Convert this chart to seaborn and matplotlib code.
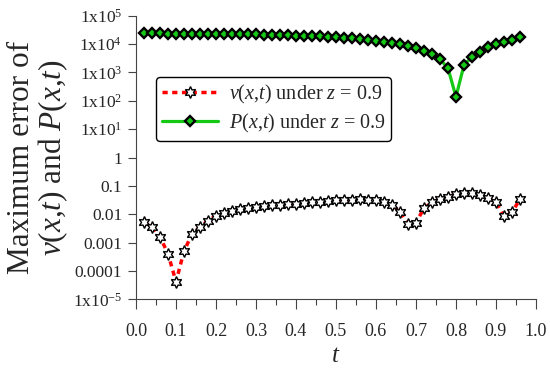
import numpy as np
import pandas as pd
import matplotlib
matplotlib.use("Agg")
import matplotlib.pyplot as plt
import seaborn as sns

# time grid
t = [0.02, 0.04, 0.06, 0.08, 0.10, 0.12, 0.14, 0.16, 0.18, 0.20,
     0.22, 0.24, 0.26, 0.28, 0.30, 0.32, 0.34, 0.36, 0.38, 0.40,
     0.42, 0.44, 0.46, 0.48, 0.50, 0.52, 0.54, 0.56, 0.58, 0.60,
     0.62, 0.64, 0.66, 0.68, 0.70, 0.72, 0.74, 0.76, 0.78, 0.80,
     0.82, 0.84, 0.86, 0.88, 0.90, 0.92, 0.94, 0.96]

# max error of v(x,t)
v_err = [0.0052, 0.0036, 0.0016, 0.0004, 4.2e-5, 0.0005, 0.0020, 0.0036, 0.0059, 0.0089,
         0.0107, 0.0129, 0.0151, 0.0170, 0.0186, 0.0200, 0.0204, 0.0214, 0.0224, 0.0234,
         0.0245, 0.0263, 0.0275, 0.0288, 0.0309, 0.0324, 0.0324, 0.0339, 0.0324, 0.0309,
         0.0269, 0.0214, 0.0123, 0.0044, 0.0051, 0.0162, 0.0263, 0.0347, 0.0417, 0.0501,
         0.0550, 0.0550, 0.0479, 0.0363, 0.0263, 0.0087, 0.0117, 0.0339]

# max error of P(x,t)
p_err = [24000, 24000, 24000, 23440, 23440, 23440, 23440, 22900, 22900, 22900,
         22390, 22390, 22390, 21880, 21880, 21380, 21380, 20890, 20420, 19950,
         19500, 19050, 18620, 17780, 17380, 16600, 15850, 15140, 14130, 13180,
         12020, 10960, 9770, 8510, 7080, 5890, 4470, 2950, 1410, 138,
         1820, 3550, 5370, 7760, 10000, 12020, 13800, 17380]

ytick_vals = [1e-5, 1e-4, 1e-3, 1e-2, 1e-1, 1, 1e1, 1e2, 1e3, 1e4, 1e5]
ytick_labels = [r'1x10$^{-5}$', '0.0001', '0.001', '0.01', '0.1', '1',
                r'1x10$^{1}$', r'1x10$^{2}$', r'1x10$^{3}$', r'1x10$^{4}$', r'1x10$^{5}$']
xtick_vals = [0.0, 0.1, 0.2, 0.3, 0.4, 0.5, 0.6, 0.7, 0.8, 0.9, 1.0]
xtick_labels = ['0.0', '0.1', '0.2', '0.3', '0.4', '0.5', '0.6', '0.7', '0.8', '0.9', '1.0']

df = pd.DataFrame({'t': t, 'v': v_err, 'P': p_err})

sns.set_style('ticks')
plt.rcParams['font.family'] = ['Liberation Serif', 'DejaVu Serif']
plt.rcParams['mathtext.fontset'] = 'custom'
plt.rcParams['mathtext.rm'] = 'Liberation Serif'
plt.rcParams['mathtext.it'] = 'Liberation Serif:italic'

fig = plt.figure(figsize=(5.5, 3.72), dpi=100)
ax = fig.add_axes([0.2473, 0.1954, 0.7272, 0.7624])

sns.lineplot(data=df, x='t', y='v', ax=ax, color='red', linestyle=(0, (1.5, 1.3)), lw=2.5,
             marker=(6, 1, 0), markersize=8.5, markerfacecolor='white',
             markeredgecolor='black', markeredgewidth=1.0,
             label=r'$v$($x$,$t$) under $z$ = 0.9')
sns.lineplot(data=df, x='t', y='P', ax=ax, color='#14c814', lw=2.3,
             marker='D', markersize=5.2, markerfacecolor='#14c814',
             markeredgecolor='black', markeredgewidth=1.7,
             label=r'$P$($x$,$t$) under $z$ = 0.9')

ax.set_yscale('log')
ax.set_ylim(1e-5, 1e5)
ax.set_xlim(0, 1.0)
ax.set_yticks(ytick_vals)
ax.set_yticklabels(ytick_labels)
ax.minorticks_off()
ax.set_xticks(xtick_vals)
ax.set_xticklabels(xtick_labels)
ax.set_xticks([0.05, 0.15, 0.25, 0.35, 0.45, 0.55, 0.65, 0.75, 0.85, 0.95], minor=True)
ax.tick_params(axis='both', which='major', length=6, width=0.8,
               color='#444444', direction='out')
ax.tick_params(axis='y', which='major', labelsize=12.5, pad=4)
ax.tick_params(axis='x', which='major', labelsize=13, length=7, pad=10)
ax.tick_params(axis='x', which='minor', length=4, width=0.8, color='#444444')

for s in ['top', 'right']:
    ax.spines[s].set_visible(False)
for s in ['left', 'bottom']:
    ax.spines[s].set_color('#444444')
    ax.spines[s].set_linewidth(0.8)

ax.set_xlabel(r'$t$', fontsize=18, labelpad=4)
ax.set_ylabel('Maximum error of\n' + r'$v$($x$,$t$) and $P$($x$,$t$)',
              fontsize=22.5, linespacing=1.0, family='Liberation Serif')
ax.yaxis.set_label_coords(-0.165, 0.5)

leg = ax.legend(loc='upper left', bbox_to_anchor=(0.05, 0.785), fontsize=14.5,
                frameon=True, fancybox=True, handlelength=2.8, numpoints=1,
                borderpad=0.3, labelspacing=0.3, handletextpad=0.5,
                borderaxespad=0)
leg.get_frame().set_edgecolor('black')
leg.get_frame().set_linewidth(1.0)
leg.get_frame().set_alpha(1)

fig.savefig('out.png', dpi=100)
